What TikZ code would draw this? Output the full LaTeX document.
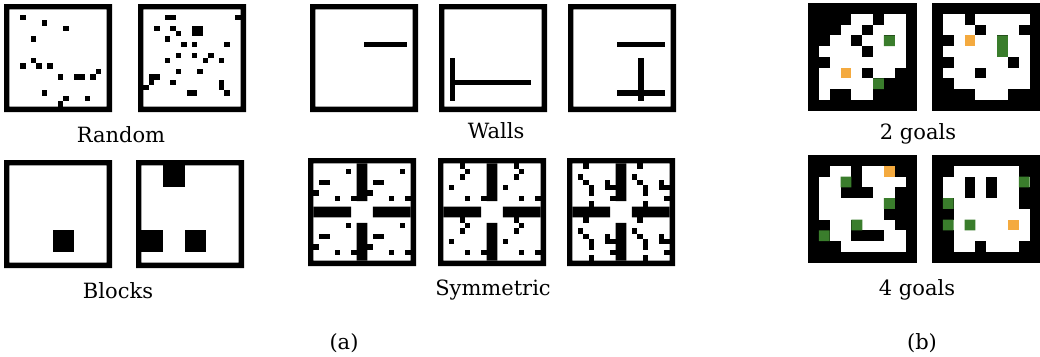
\documentclass[tikz,border=0pt]{standalone}
\usepackage{fontspec}
\setmainfont{DejaVu Serif}
\definecolor{goalg}{RGB}{58,125,44}
\definecolor{goalo}{RGB}{244,170,63}
\begin{document}
\begin{tikzpicture}[x=1pt,y=-1pt,
  lab/.style={font=\fontsize{21}{25}\selectfont, inner sep=0pt, anchor=base},
  cellmap/.style={x=5.4pt,y=-5.4pt},
  gmap/.style={x=10.85pt,y=-10.75pt}]
\useasboundingbox (0,0) rectangle (1040,356);
% ---------- Random ----------
\begin{scope}[shift={(4,4)},cellmap]
\fill[even odd rule] (0,0) rectangle (20,20) (1,1) rectangle (19,19);
\foreach \i/\j in {3/2,7/3,11/4,5/6,5/10,3/11,6/11,8/11,10/13,13/13,14/13,16/13,17/12,7/16,11/17,15/17,10/18}
  \fill (\i,\j) rectangle ++(1,1);
\end{scope}
\begin{scope}[shift={(138,4)},cellmap]
\fill[even odd rule] (0,0) rectangle (20,20) (1,1) rectangle (19,19);
\foreach \i/\j in {5/2,6/2,18/2,3/4,6/4,7/5,10/4,11/4,10/5,11/5,5/6,8/7,10/7,16/7,7/9,10/9,13/9,12/10,5/10,15/10,7/12,11/12,2/13,3/13,2/14,1/15,6/14,15/14,15/15,16/16,9/16,10/16}
  \fill (\i,\j) rectangle ++(1,1);
\end{scope}
% ---------- Blocks ----------
\begin{scope}[shift={(4,160)},cellmap]
\fill[even odd rule] (0,0) rectangle (20,20) (1,1) rectangle (19,19);
\fill (9,13) rectangle (13,17);
\end{scope}
\begin{scope}[shift={(136,160)},cellmap]
\fill[even odd rule] (0,0) rectangle (20,20) (1,1) rectangle (19,19);
\fill (5,1) rectangle (9,5);
\fill (1,13) rectangle (5,17);
\fill (9,13) rectangle (13,17);
\end{scope}
% ---------- Walls ----------
\begin{scope}[shift={(310,4)},cellmap]
\fill[even odd rule] (0,0) rectangle (20,20) (1,1) rectangle (19,19);
\fill (10,7) rectangle (18,8);
\end{scope}
\begin{scope}[shift={(439,4)},cellmap]
\fill[even odd rule] (0,0) rectangle (20,20) (1,1) rectangle (19,19);
\fill (2,10) rectangle (3,18);
\fill (3,14) rectangle (17,15);
\end{scope}
\begin{scope}[shift={(568,4)},cellmap]
\fill[even odd rule] (0,0) rectangle (20,20) (1,1) rectangle (19,19);
\fill (9,7) rectangle (18,8);
\fill (13,10) rectangle (14,18);
\fill (9,16) rectangle (18,17);
\end{scope}
% ---------- Symmetric ----------
\begin{scope}[shift={(308,158)},cellmap]
\fill[even odd rule] (0,0) rectangle (20,20) (1,1) rectangle (19,19);
\fill (9,1) rectangle (11,8) (9,12) rectangle (11,19) (1,9) rectangle (8,11) (12,9) rectangle (19,11);
\foreach \ox/\oy in {0/0,10/0,0/10,10/10}
  \foreach \i/\j in {7/2,2/4,3/4,1/6,5/7,8/7}
    \fill (\i+\ox,\j+\oy) rectangle ++(1,1);
\end{scope}
\begin{scope}[shift={(438,158)},cellmap]
\fill[even odd rule] (0,0) rectangle (20,20) (1,1) rectangle (19,19);
\fill (9,1) rectangle (11,8) (9,12) rectangle (11,19) (1,9) rectangle (8,11) (12,9) rectangle (19,11);
\foreach \ox/\oy in {0/0,10/0,0/10,10/10}
  \foreach \i/\j in {4/1,5/2,4/3,2/5,5/7,8/7}
    \fill (\i+\ox,\j+\oy) rectangle ++(1,1);
\end{scope}
\begin{scope}[shift={(567,158)},cellmap]
\fill[even odd rule] (0,0) rectangle (20,20) (1,1) rectangle (19,19);
\fill (9,1) rectangle (11,8) (9,12) rectangle (11,19) (1,9) rectangle (8,11) (12,9) rectangle (19,11);
\foreach \ox/\oy in {0/0,10/0,0/10,10/10}
  \foreach \i/\j in {3/1,2/3,3/4,4/5,4/6,7/4,7/5,8/5,8/7,4/8}
    \fill (\i+\ox,\j+\oy) rectangle ++(1,1);
\end{scope}
% ---------- Goals ----------
\begin{scope}[shift={(808,3)},gmap]
\fill (0,0) rectangle (10,10);
\foreach \r/\cl in {1/{4,5,7,8},2/{3,4,6,7,8},3/{2,3,5,6,8},4/{1,2,3,4,6,7,8},5/{2,3,4,5,6,7,8},6/{1,2,4,6,7},7/{1,2,3,4,5},8/{1,4,5}}
  \foreach \c in \cl \fill[white] (\c,\r) rectangle ++(1,1);
\fill[goalg] (7,3) rectangle ++(1,1) (6,7) rectangle ++(1,1);
\fill[goalo] (3,6) rectangle ++(1,1);
\end{scope}
\begin{scope}[shift={(932,3)},gmap]
\fill (0,0) rectangle (10,10);
\foreach \r/\cl in {1/{1,2,4,5,6,7,8},2/{1,2,3,5,6,7},3/{2,4,5,7,8},4/{1,2,3,4,5,7,8},5/{2,3,4,5,6,8},6/{1,2,3,5,6,7,8},7/{2,3,4,5,6,7,8},8/{4,5,6}}
  \foreach \c in \cl \fill[white] (\c,\r) rectangle ++(1,1);
\fill[goalg] (6,3) rectangle ++(1,1) (6,4) rectangle ++(1,1);
\fill[goalo] (3,3) rectangle ++(1,1);
\end{scope}
\begin{scope}[shift={(808,155)},gmap]
\fill (0,0) rectangle (10,10);
\foreach \r/\cl in {1/{2,3,5,6},2/{1,2,5,6,7,8},3/{1,2,6,7},4/{1,2,3,4,5,6},5/{1,2,3,4,5,6},6/{2,3,5,6,7},7/{2,3,7,8},8/{3,4,5,6,7,8}}
  \foreach \c in \cl \fill[white] (\c,\r) rectangle ++(1,1);
\fill[goalg] (3,2) rectangle ++(1,1) (7,4) rectangle ++(1,1) (4,6) rectangle ++(1,1) (1,7) rectangle ++(1,1);
\fill[goalo] (7,1) rectangle ++(1,1);
\end{scope}
\begin{scope}[shift={(932,155)},gmap]
\fill (0,0) rectangle (10,10);
\foreach \r/\cl in {1/{2,3,4,5,6,7},2/{1,2,4,6,7,8},3/{1,2,4,6,7},4/{2,3,4,5,6,7},5/{2,3,4,5,6,7,8},6/{1,2,3,4,5,6,8},7/{2,3,4,5,6,7,8},8/{2,3,5,6,7}}
  \foreach \c in \cl \fill[white] (\c,\r) rectangle ++(1,1);
\fill[goalg] (8,2) rectangle ++(1,1) (1,4) rectangle ++(1,1) (1,6) rectangle ++(1,1) (3,6) rectangle ++(1,1);
\fill[goalo] (7,6) rectangle ++(1,1);
\end{scope}
% ---------- Labels ----------
\node[lab] (lrandom) at (121,142) {Random};
\node[lab] (lwalls) at (496,138) {Walls};
\node[lab] (lgoals2) at (918,139) {2 goals};
\node[lab] (lblocks) at (118,298) {Blocks};
\node[lab] (lsym) at (493,295) {Symmetric};
\node[lab] (lgoals4) at (917,295) {4 goals};
\node[lab] (la) at (344,349) {(a)};
\node[lab] (lb) at (922,349) {(b)};
\end{tikzpicture}
\end{document}
